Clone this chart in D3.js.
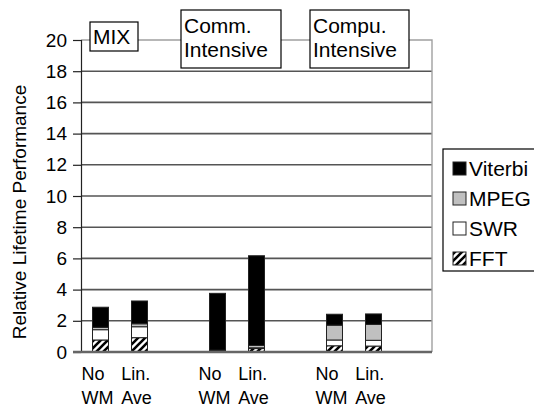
<!DOCTYPE html>
<html><head><meta charset="utf-8">
<script src="https://cdn.jsdelivr.net/npm/d3@7"></script>
<style>body{margin:0;background:#fff}svg{display:block}</style>
</head><body>
<svg id="chart" width="534" height="409"></svg>
<script>
// Category slots along the x axis (empty slots separate the three workload groups)
const slots = ["mixNo", "mixLin", "gapA", "commNo", "commLin", "gapB", "compuNo", "compuLin", "gapC"];
const barSlots = ["mixNo", "mixLin", "commNo", "commLin", "compuNo", "compuLin"];
const barLabels = [["No", "WM"], ["Lin.", "Ave"], ["No", "WM"], ["Lin.", "Ave"], ["No", "WM"], ["Lin.", "Ave"]];

// Stacked series, bottom to top
const fft     = [0.77, 0.92, 0.03, 0.22, 0.40, 0.38];
const swr     = [0.66, 0.70, 0.07, 0.05, 0.37, 0.37];
const mpeg    = [0.15, 0.19, 0.02, 0.15, 0.95, 1.02];
const viterbi = [1.29, 1.46, 3.64, 5.75, 0.70, 0.67];

const seriesNames = ["FFT", "SWR", "MPEG", "Viterbi"];
const legendOrder = ["Viterbi", "MPEG", "SWR", "FFT"];
const yTicks = [0, 2, 4, 6, 8, 10, 12, 14, 16, 18, 20];
const groupTitles = [["MIX"], ["Comm.", "Intensive"], ["Compu.", "Intensive"]];

const svg = d3.select("#chart");
const font = "'Liberation Sans', Arial, Helvetica, sans-serif";

const plot = {left: 81, right: 432, top: 40, bottom: 352};
const y = d3.scaleLinear().domain([0, 20]).range([plot.bottom, plot.top]);
const x = d3.scaleBand().domain(slots).range([plot.left, plot.right])
  .paddingInner(0.59).paddingOuter(0.295);

// hatch for FFT
const defs = svg.append("defs");
const pat = defs.append("pattern").attr("id", "hatch")
  .attr("patternUnits", "userSpaceOnUse").attr("width", 7).attr("height", 7);
pat.append("rect").attr("width", 7).attr("height", 7).attr("fill", "#fff");
pat.append("path").attr("d", "M-1,1 l2,-2 M0,7 l7,-7 M6,8 l2,-2")
  .attr("stroke", "#000").attr("stroke-width", 2.6);

const fills = {Viterbi: "#000", MPEG: "#c0c0c0", SWR: "#fff", FFT: "url(#hatch)"};

// gridlines
svg.append("g").selectAll("line").data(yTicks.filter(t => t > 0 && t < 20)).join("line")
  .attr("x1", plot.left).attr("x2", plot.right)
  .attr("y1", d => y(d)).attr("y2", d => y(d))
  .attr("stroke", "#555").attr("stroke-width", 1.6);

// plot frame: top and right in light gray
svg.append("path")
  .attr("d", `M${plot.left},${y(20)}H${plot.right}V${y(0)}`)
  .attr("fill", "none").attr("stroke", "#a0a0a0").attr("stroke-width", 1.4);

// y axis
const yAxis = d3.axisLeft(y).tickValues(yTicks).tickSize(8).tickPadding(6);
const yg = svg.append("g").attr("transform", `translate(${plot.left},0)`).call(yAxis);
yg.select(".domain").attr("stroke", "#222").attr("stroke-width", 1.2);
yg.selectAll(".tick line").attr("stroke", "#222").attr("stroke-width", 1.2);
yg.selectAll(".tick text").attr("font-family", font).attr("font-size", 19).attr("fill", "#000");

// stacked bars
const rows = barSlots.map((s, i) => ({slot: s, FFT: fft[i], SWR: swr[i], MPEG: mpeg[i], Viterbi: viterbi[i]}));
const stacked = d3.stack().keys(seriesNames)(rows);
svg.append("g").selectAll("g").data(stacked).join("g")
  .attr("fill", d => fills[d.key])
  .selectAll("rect").data(d => d).join("rect")
  .attr("x", d => x(d.data.slot)).attr("width", x.bandwidth())
  .attr("y", d => y(d[1])).attr("height", d => y(d[0]) - y(d[1]))
  .attr("stroke", "#222").attr("stroke-width", 1);

// category axis line
svg.append("line").attr("x1", plot.left - 8).attr("x2", plot.right)
  .attr("y1", y(0)).attr("y2", y(0)).attr("stroke", "#666").attr("stroke-width", 2.4);

// category labels, two lines each, left-aligned block centred on the bar
const lab = svg.append("g").attr("font-family", font).attr("font-size", 18).attr("fill", "#000");
barSlots.forEach((s, i) => {
  const cx = x(s) + x.bandwidth() / 2 - 3;
  const ts = barLabels[i].map((ln, k) => lab.append("text").attr("y", 380 + k * 24).text(ln));
  const w = d3.max(ts, n => n.node().getComputedTextLength());
  ts.forEach(n => n.attr("x", cx - w / 2));
});

// y axis title
svg.append("text").attr("transform", "translate(26,212) rotate(-90)")
  .attr("text-anchor", "middle").attr("font-family", font).attr("font-size", 19)
  .text("Relative Lifetime Performance");

// group title boxes
const boxes = [
  {x: 90, y: 22, w: 48, h: 29},
  {x: 181, y: 10, w: 100, h: 58},
  {x: 310, y: 10, w: 99, h: 58}
];
boxes.forEach((b, i) => {
  svg.append("rect").attr("x", b.x).attr("y", b.y).attr("width", b.w).attr("height", b.h)
    .attr("fill", "#fff").attr("stroke", "#000").attr("stroke-width", 1.2);
  groupTitles[i].forEach((ln, k) => {
    svg.append("text").attr("x", b.x + 3).attr("y", b.y + (groupTitles[i].length === 1 ? 22 : 23 + k * 24))
      .attr("font-family", font).attr("font-size", 21).text(ln);
  });
});

// legend
const lg = svg.append("g");
lg.append("rect").attr("x", 443).attr("y", 149).attr("width", 100).attr("height", 122)
  .attr("fill", "#fff").attr("stroke", "#000").attr("stroke-width", 1.2);
legendOrder.forEach((name, i) => {
  const cy = 168 + i * 30;
  lg.append("rect").attr("x", 453).attr("y", cy - 6).attr("width", 13).attr("height", 13)
    .attr("fill", fills[name]).attr("stroke", "#222").attr("stroke-width", 1);
  lg.append("text").attr("x", 469).attr("y", cy + 8).attr("font-family", font)
    .attr("font-size", 21).text(name);
});
</script>
</body></html>
